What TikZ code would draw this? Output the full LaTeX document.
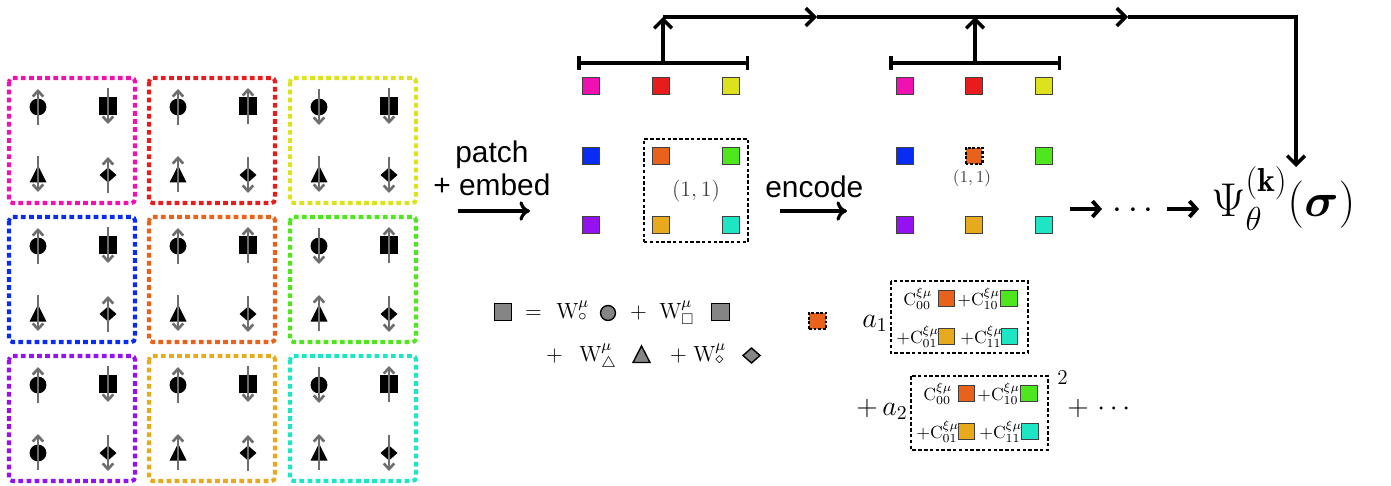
\RequirePackage{fix-cm}
\documentclass[tikz,border=0pt]{standalone}
\usepackage{amsmath,amssymb}
\usepackage{fontspec}
\newfontfamily\arialf{Liberation Sans}
\usetikzlibrary{arrows.meta,fit}

\definecolor{cMag}{HTML}{F012B0}
\definecolor{cRed}{HTML}{E81C1C}
\definecolor{cYel}{HTML}{DDE21C}
\definecolor{cBlu}{HTML}{0A2CF2}
\definecolor{cOra}{HTML}{E8621C}
\definecolor{cGrn}{HTML}{4EE61C}
\definecolor{cPur}{HTML}{9412F0}
\definecolor{cAmb}{HTML}{E6AA1C}
\definecolor{cCya}{HTML}{1CE6C4}
\definecolor{spingray}{HTML}{6E6E6E}
\definecolor{eqgray}{HTML}{858585}

\tikzset{
  celldash/.style={line width=2.3pt, dash pattern=on 2.7pt off 1.9pt, line cap=butt, rounded corners=2pt},
  spinarr/.style={draw=spingray, line width=1.5pt, -{Straight Barb[length=3.2pt,width=6pt]}},
  csq/.style={draw=black!75, line width=0.6pt, minimum size=9.6pt, inner sep=0pt, outer sep=0pt},
  dashsq/.style={draw=black, line width=1.2pt, dash pattern=on 1.6pt off 1pt},
  dbox/.style={draw=black, line width=1.2pt, dash pattern=on 2pt off 1.3pt},
  thk/.style={line width=2pt, line join=miter},
  mainarr/.style={line width=2pt, line join=miter, -{Straight Barb[length=5pt,width=10pt]}},
  txtarr/.style={line width=1.8pt, -{Computer Modern Rightarrow[length=6pt,width=11pt]}},
  sanslbl/.style={font=\arialf\fontsize{17}{20}\selectfont, inner sep=0pt},
  eqf/.style={font=\fontsize{12.5}{15}\selectfont, inner sep=0pt},
  af/.style={font=\fontsize{16}{19}\selectfont, inner sep=0pt},
  cf/.style={font=\fontsize{10}{12}\selectfont, inner sep=0pt},
  gsh/.style={fill=eqgray, draw=black, line width=0.8pt},
}

\newcommand\SpinArr[3]{\if#3u\draw[spinarr] (#1,#2+18) -- (#1,#2-18);\else\draw[spinarr] (#1,#2-18) -- (#1,#2+18);\fi}
\newcommand\Cell[8]{%
  \draw[celldash,draw=#3] (#1,#2) rectangle ++(126,125);
  \fill (#1+29,#2+29) circle[radius=4.8pt];
  \fill (#1+99-9,#2+28-9) rectangle ++(18,18);
  \if#6t\fill (#1+29-8.5,#2+96+8.5) -- ++(17,0) -- ++(-8.5,-17) -- cycle;\else\fill (#1+29,#2+97) circle[radius=4.8pt];\fi
  \fill (#1+99-8.5,#2+97) -- ++(8.5,-7.5) -- ++(8.5,7.5) -- ++(-8.5,7.5) -- cycle;
  \SpinArr{#1+29}{#2+29}{#4}
  \SpinArr{#1+99}{#2+28}{#5}
  \SpinArr{#1+29}{#2+96}{#7}
  \SpinArr{#1+99}{#2+97}{#8}
}

\begin{document}
\begin{tikzpicture}[x=0.02cm,y=-0.02cm]
\useasboundingbox (0,0) rectangle (1391,486);

% ---------------- left lattice ----------------
\Cell{9}{78}{cMag}{u}{d}{t}{d}{u}
\Cell{149}{78}{cRed}{u}{u}{t}{u}{d}
\Cell{290}{78}{cYel}{d}{d}{t}{d}{d}
\Cell{9}{217}{cBlu}{u}{d}{t}{d}{u}
\Cell{149}{217}{cOra}{u}{u}{t}{d}{d}
\Cell{290}{217}{cGrn}{d}{u}{t}{u}{d}
\Cell{9}{356}{cPur}{u}{d}{c}{u}{d}
\Cell{149}{356}{cAmb}{u}{d}{t}{u}{u}
\Cell{290}{356}{cCya}{d}{u}{t}{u}{d}

% ---------------- patch + embed ----------------
\node[sanslbl, anchor=base west] (patch) at (455,163) {patch};
\node[sanslbl, anchor=base west] (embed) at (433,195) {+ embed};
\coordinate (pa1) at (458,211);
\coordinate (pa2) at (530,211);
\draw[txtarr] (pa1) -- (pa2);

% ---------------- first token grid ----------------
\node[csq,fill=cMag] (pA11) at (591,86) {};
\node[csq,fill=cRed] (pA12) at (661,86) {};
\node[csq,fill=cYel] (pA13) at (731,86) {};
\node[csq,fill=cBlu] (pA21) at (591,156) {};
\node[csq,fill=cOra] (pA22) at (661,156) {};
\node[csq,fill=cGrn] (pA23) at (731,156) {};
\node[csq,fill=cPur] (pA31) at (591,225) {};
\node[csq,fill=cAmb] (pA32) at (661,225) {};
\node[csq,fill=cCya] (pA33) at (731,225) {};
\node[dbox, fit=(pA22)(pA33), inner sep=4.9pt] (boxA) {};
\node[font=\fontsize{12.5}{14}\selectfont, text=black!75, inner sep=0pt] (lblA) at (696,191) {$(1,1)$};

% bracket A
\coordinate (brA1) at (577,63);
\coordinate (brA2) at (749,63);
\coordinate (brAc) at (663,63);
\draw[thk, {Bar[width=8pt]}-{Bar[width=8pt]}] (brA1) -- (brA2);

% ---------------- encode ----------------
\node[sanslbl, anchor=base west] (enc) at (765,197) {encode};
\coordinate (ea1) at (780,211);
\coordinate (ea2) at (847,211);
\draw[txtarr] (ea1) -- (ea2);

% ---------------- second token grid ----------------
\node[csq,fill=cMag] (pB11) at (905,86) {};
\node[csq,fill=cRed] (pB12) at (974,86) {};
\node[csq,fill=cYel] (pB13) at (1044,86) {};
\node[csq,fill=cBlu] (pB21) at (905,156) {};
\node[csq,fill=cOra,dashsq] (pB22) at (974,156) {};
\node[csq,fill=cGrn] (pB23) at (1044,156) {};
\node[csq,fill=cPur] (pB31) at (905,225) {};
\node[csq,fill=cAmb] (pB32) at (974,225) {};
\node[csq,fill=cCya] (pB33) at (1044,225) {};
\node[font=\fontsize{9.5}{11}\selectfont, text=black!75, inner sep=0pt] (lblB) at (972,178) {$(1,1)$};

% bracket B
\coordinate (brB1) at (889,63);
\coordinate (brB2) at (1061,63);
\coordinate (brBc) at (975,63);
\draw[thk, {Bar[width=8pt]}-{Bar[width=8pt]}] (brB1) -- (brB2);

% ---------------- top routing ----------------
\coordinate (topA) at (663,17);
\coordinate (topB) at (975,17);
\coordinate (midA) at (817,17);
\coordinate (midB) at (1128,17);
\coordinate (corner) at (1296,17);
\coordinate (psiTop) at (1296,167);
\draw[mainarr] (brAc) -- (topA);
\draw[mainarr] (brBc) -- (topB);
\draw[mainarr] (topA) -- (midA);
\draw[mainarr] (midA) -- (midB);
\draw[mainarr] (midB) -- (corner) -- (psiTop);

% ---------------- output ----------------
\coordinate (oa1) at (1070,209);
\coordinate (oa2) at (1102,209);
\coordinate (ob1) at (1167,209);
\coordinate (ob2) at (1199,209);
\draw[line width=2.2pt, -{Straight Barb[length=4pt,width=9pt]}] (oa1) -- (oa2);
\draw[line width=2.2pt, -{Straight Barb[length=4pt,width=9pt]}] (ob1) -- (ob2);
\node[font=\fontsize{20}{24}\selectfont, inner sep=0pt, anchor=base] (odots) at (1136,218) {$\cdots$};
\node[font=\fontsize{27}{32}\selectfont, inner sep=0pt, anchor=base west] (psi) at (1211,216) {$\Psi_\theta^{(\mathbf{k})}(\boldsymbol{\sigma})$};

% ---------------- embedding equation ----------------
\node[gsh, minimum size=10pt, inner sep=0pt] (gs0) at (503,312) {};
\node[eqf, anchor=base] (eqeq) at (533.5,318) {$=$};
\node[eqf, anchor=base west] (w1) at (556,318) {$\mathrm{W}^{\mu}_{\circ}$};
\node[gsh, circle, minimum size=8.5pt, inner sep=0pt] (gc1) at (608,313) {};
\node[eqf, anchor=base] (pl1) at (638.5,318) {$+$};
\node[eqf, anchor=base west] (w2) at (659,318) {$\mathrm{W}^{\mu}_{\square}$};
\node[gsh, minimum size=10pt, inner sep=0pt] (gs1) at (720.5,312) {};
\node[eqf, anchor=base] (pl2) at (554.5,361) {$+$};
\node[eqf, anchor=base west] (w3) at (579,361) {$\mathrm{W}^{\mu}_{\triangle}$};
\draw[gsh] (633,362.5) -- (650,362.5) -- (641.5,346) -- cycle;
\node[eqf, anchor=base] (pl3) at (678.5,361) {$+$};
\node[eqf, anchor=base west] (w4) at (693,361) {$\mathrm{W}^{\mu}_{\diamond}$};
\draw[gsh] (743,355.5) -- (751.5,348) -- (760,355.5) -- (751.5,363) -- cycle;

% ---------------- encoded expansion ----------------
\node[csq, fill=cOra, dashsq] (encsq) at (817.5,321) {};
\node[af, anchor=base west] (a1) at (862,327) {$a_1$};
\draw[dbox] (891,281) rectangle (1028,353);
\node[cf, anchor=base west] (c1a) at (903,305) {$\mathrm{C}^{\xi\mu}_{00}$};
\node[csq, fill=cOra] (s1a) at (946.5,298.5) {};
\node[cf, anchor=base west] (c1b) at (957,305) {$+\mathrm{C}^{\xi\mu}_{10}$};
\node[csq, fill=cGrn] (s1b) at (1009,298.5) {};
\node[cf, anchor=base west] (c1c) at (896,343) {$+\mathrm{C}^{\xi\mu}_{01}$};
\node[csq, fill=cAmb] (s1c) at (946.5,336.5) {};
\node[cf, anchor=base west] (c1d) at (960,343) {$+\mathrm{C}^{\xi\mu}_{11}$};
\node[csq, fill=cCya] (s1d) at (1009.5,336.5) {};

\node[af, anchor=base west] (a2) at (856,415) {$+\,a_2$};
\draw[dbox] (911,376) rectangle (1048,450);
\node[cf, anchor=base west] (c2a) at (923,400) {$\mathrm{C}^{\xi\mu}_{00}$};
\node[csq, fill=cOra] (s2a) at (966.5,393.5) {};
\node[cf, anchor=base west] (c2b) at (977,400) {$+\mathrm{C}^{\xi\mu}_{10}$};
\node[csq, fill=cGrn] (s2b) at (1029,393.5) {};
\node[cf, anchor=base west] (c2c) at (916,438) {$+\mathrm{C}^{\xi\mu}_{01}$};
\node[csq, fill=cAmb] (s2c) at (966.5,431.5) {};
\node[cf, anchor=base west] (c2d) at (979,438) {$+\mathrm{C}^{\xi\mu}_{11}$};
\node[csq, fill=cCya] (s2d) at (1030,431.5) {};
\node[font=\fontsize{12}{14}\selectfont, inner sep=0pt, anchor=base west] (sq2) at (1057,384) {$2$};
\node[af, anchor=base west] (pl4) at (1067,415) {$+$};
\node[af, anchor=base west] (dots2) at (1097,415) {$\cdots$};
\end{tikzpicture}
\end{document}
